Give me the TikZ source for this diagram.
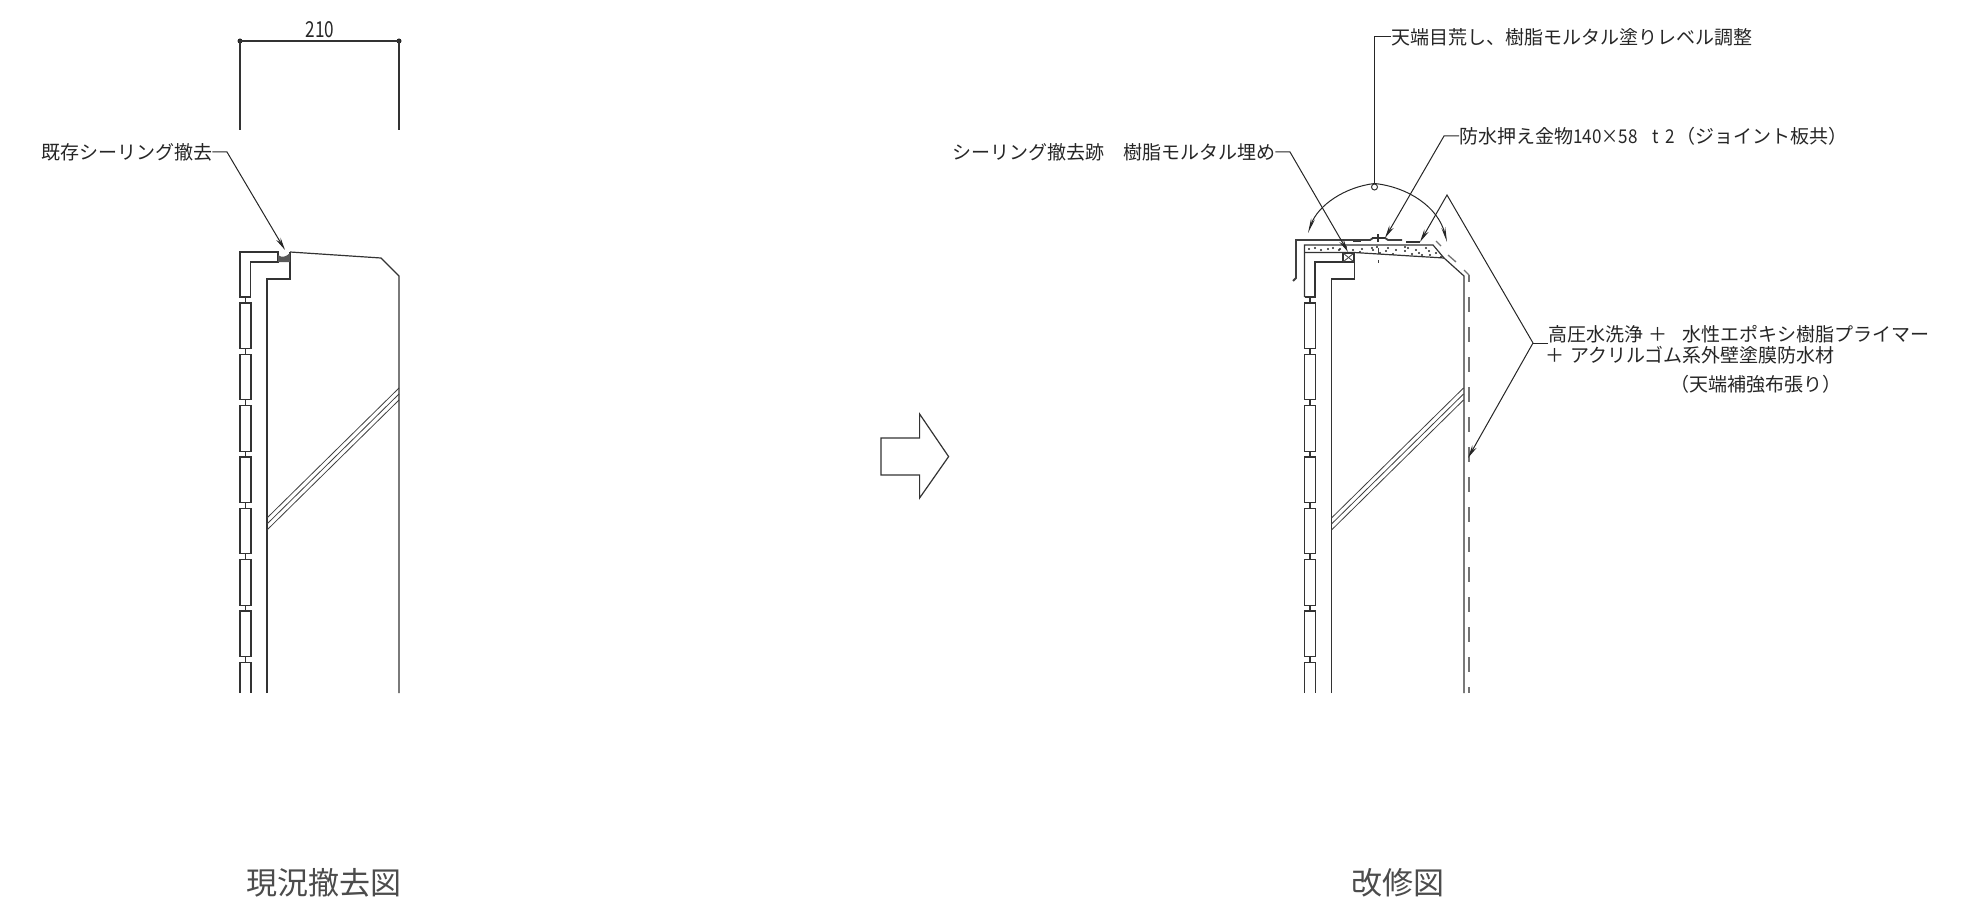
\documentclass[tikz,border=0pt]{standalone}
\usepackage{fontspec}
\usepackage{graphicx}
\setmainfont{Noto Sans CJK JP}
\usetikzlibrary{arrows.meta}
\newcommand{\sxx}[2]{\scalebox{#1}[1]{#2}}
\tikzset{
  ln/.style={line width=1.2pt,draw=black!80,line join=miter},
  thin ln/.style={line width=0.8pt,draw=black!75},
  leader/.style={line width=1pt,draw=black!85},
  tip/.style={-{Stealth[length=13pt,width=5pt]}},
  lab/.style={inner sep=0pt,anchor=west,font=\fontsize{19}{19}\selectfont,text=black!85},
  ttl/.style={inner sep=0pt,font=\fontsize{31}{31}\selectfont,text=black!70},
  dsh/.style={line width=1.3pt,draw=black!55},
  dotb/.style={circle,fill=black!85,inner sep=0pt,minimum size=5pt},
  mortar/.style={fill=black!85,draw=none}
}
\begin{document}
\begin{tikzpicture}[x=1pt,y=-1pt]
\useasboundingbox (0,0) rectangle (1973,904);
% ---------- left: dimension
\node[dotb] (d1) at (240,41) {};
\node[dotb] (d2) at (399,41) {};
\draw[ln] (240,130) -- (d1.center) -- (d2.center) -- (399,130);
\node[inner sep=0pt,font=\fontsize{22}{22}\selectfont,text=black!85] (dim) at (320,30) {\sxx{0.78}{210}};
% ---------- section, shared by both drawings
\foreach \dx in {0,1064.5}{
  \begin{scope}[xshift=\dx pt]
  \foreach \yy in {303,354.3,405.7,457,508.3,559.7,611}{
    \draw[ln] (240,\yy) rectangle (251,\yy+45.5);
    \draw[ln] (245.5,\yy+45.5) -- (245.5,\yy+51.3);
  }
  \draw[ln] (240,693) -- (240,662.3) -- (251,662.3) -- (251,693);
  \draw[ln] (245.5,297) -- (245.5,303);
  \draw[ln] (267,693) -- (267,279) -- (290,279) -- (290,252);
  \draw[thin ln] (267,518) -- (399,388);
  \draw[thin ln] (267,524) -- (399,394);
  \draw[thin ln] (267,530) -- (399,400);
  \end{scope}
}
% left top
\draw[ln] (240,297) -- (240,252) -- (278,252) -- (278,262) -- (250.5,262) -- (250.5,297) -- cycle;
\draw[ln] (290,252) -- (381,258) -- (399,276) -- (399,693);
\fill[black!65] (278,255) .. controls (282,258) and (286,257) .. (290,253) -- (290,262) -- (278,262) -- cycle;
% right top
\draw[ln] (1304.5,297) -- (1304.5,245) -- (1433,245) -- (1444,258) -- (1464,276) -- (1464,693);
\draw[ln] (1304.5,297) -- (1315,297) -- (1315,262) -- (1343,262);
\draw[ln] (1304.5,252.5) -- (1354,252.5) -- (1444,258);
\draw[ln] (1343,253) rectangle (1354,262);
\draw[thin ln] (1343,253) -- (1354,262) (1343,262) -- (1354,253);
% mortar dots
\foreach \px/\py in {1309/249,1315/248,1321/250,1328/249,1333/248,1339/250,1346/247,1340/249,1353/250,1362/249,1373/250,1377/247,1386/251,1388/248,1396/250,1405/251,1408/248,1416/250,1419/253,1426/248,1429/251,1436/253,1430/255,1441/257,1372/248,1405/247,1360/252,1393/254,1380/253,1412/254,1422/255}{
  \fill[mortar] (\px,\py) circle (1.1pt);
}
% flashing
\draw[line width=1.8pt,draw=black!75] (1293,281) -- (1296,278) -- (1296,240) -- (1370,240) -- (1373,238) -- (1385,238) -- (1388,240) -- (1402,240);
\draw[ln] (1406,242) -- (1420,242);
\draw[ln] (1353,241.5) -- (1361,241.5);
\draw[ln] (1378,234) -- (1378,242) (1372,238) -- (1385,238);
\draw[thin ln] (1378,248) -- (1378,254) (1378,260) -- (1378,263);
% dashed coating
\draw[dsh] (1436,241) -- (1441,246);
\draw[dsh] (1448,255) -- (1456,262);
\draw[dsh] (1464,270) -- (1469,275);
\draw[dsh,dash pattern=on 15pt off 15pt,dash phase=8pt] (1469,275) -- (1469,693);
% ---------- labels and leaders
\node[lab] (l1) at (41,152) {既存シーリング撤去};
\coordinate (l1k) at (227,152);
\coordinate (l1t) at (285,250);
\draw[leader,tip] (l1.east) -- (l1k) -- (l1t);

\node[lab] (l2) at (1391,37) {天端目荒し、樹脂モルタル塗りレベル調整};
\coordinate (l2k) at (1374.5,37);
\node[draw=black!80,line width=1pt,circle,inner sep=0pt,minimum size=6pt] (c) at (1374.5,187) {};
\draw[leader] (l2.west) -- (l2k) -- (c.north);

\node[lab] (l3) at (1459,136) {防水押え金物\sxx{0.9}{140×58}\hspace{15pt}\sxx{0.9}{t}\hspace{6pt}\sxx{0.9}{2}\hspace{2pt}（ジョイント板共）};
\coordinate (l3k) at (1444,136);
\coordinate (l3t) at (1385,238);
\draw[leader,tip] (l3.west) -- (l3k) -- (l3t);

\node[lab] (l4) at (952,152) {シーリング撤去跡\hspace{19pt}樹脂モルタル埋め};
\coordinate (l4k) at (1290,152);
\coordinate (l4t) at (1348,252);
\draw[leader,tip] (l4.east) -- (l4k) -- (l4t);

\node[lab] (l5) at (1548,334) {高圧水洗浄\hspace{5pt}＋\hspace{15pt}水性エポキシ樹脂プライマー};
\node[lab] (l6) at (1545,355) {＋\hspace{6pt}アクリルゴム系外壁塗膜防水材};
\node[lab] (l7) at (1670,384) {（天端補強布張り）};
\coordinate (l5j) at (1533,343);
\coordinate (l5e) at (1548,343);
\coordinate (l5p) at (1447,195);
\coordinate (l5t) at (1420,242);
\coordinate (l5u) at (1468,458);
\draw[leader] (l5e) -- (l5j);
\draw[leader,tip] (l5j) -- (l5p) -- (l5t);
\draw[leader,tip] (l5j) -- (l5u);

% arc with arrows
\coordinate (arcL) at (1308,233);
\coordinate (arcR) at (1447,242);
\draw[leader,{Stealth[length=15pt,width=4pt]}-{Stealth[length=15pt,width=4pt]}] (arcL) .. controls (1318,205) and (1345,187) .. (c.north) .. controls (1408,187) and (1438,207) .. (arcR);

% big arrow
\draw[ln] (881,438) -- (919.6,438) -- (919.6,414) -- (948.6,456.6) -- (919.6,498) -- (919.6,475) -- (881,475) -- cycle;

% titles
\node[ttl] (t1) at (324,883) {現況撤去図};
\node[ttl] (t2) at (1398,883) {改修図};
\end{tikzpicture}
\end{document}
